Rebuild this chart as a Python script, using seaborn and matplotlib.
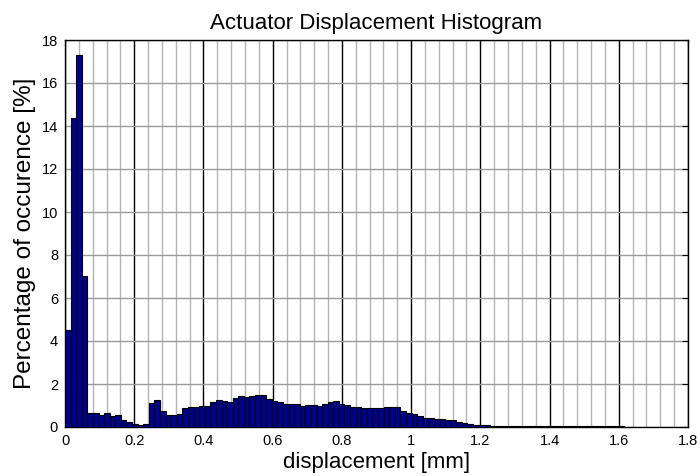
import numpy as np
import pandas as pd
import matplotlib
matplotlib.use("Agg")
import matplotlib.pyplot as plt
import seaborn as sns
from matplotlib.ticker import MultipleLocator

# Percentage of samples per displacement bin (100 equal bins from 0 to 1.615 mm)
bin_start = 0.0
bin_stop = 1.615
percent = [
    4.53, 14.39, 17.31, 7.03,
    0.66, 0.66, 0.55, 0.66, 0.49, 0.55, 0.33, 0.25, 0.13, 0.09, 0.14,
    1.10, 1.26, 0.76, 0.55, 0.55, 0.61, 0.90, 0.94, 0.94, 0.99,
    0.98, 1.15, 1.26, 1.21, 1.15, 1.37, 1.43, 1.39, 1.43, 1.50,
    1.50, 1.31, 1.23, 1.15, 1.09, 1.09, 1.09, 0.99, 1.04, 1.04,
    0.98, 1.09, 1.15, 1.21, 1.09,
    1.02, 0.94, 0.94, 0.90, 0.90, 0.90, 0.90, 0.94, 0.94, 0.94,
    0.76, 0.66, 0.60, 0.49, 0.43, 0.43, 0.36, 0.36, 0.33, 0.31,
    0.25, 0.19, 0.13, 0.08, 0.08,
    0.07, 0.06, 0.06, 0.05, 0.05, 0.05, 0.05, 0.05, 0.04, 0.04,
    0.04, 0.04, 0.04, 0.04, 0.04, 0.04, 0.04, 0.04, 0.04, 0.03,
    0.03, 0.03, 0.03, 0.03, 0.03,
]

x_ticks = [0, 0.2, 0.4, 0.6, 0.8, 1.0, 1.2, 1.4, 1.6, 1.8]
x_tick_labels = ["0", "0.2", "0.4", "0.6", "0.8", "1", "1.2", "1.4", "1.6", "1.8"]
y_ticks = [0, 2, 4, 6, 8, 10, 12, 14, 16, 18]
y_tick_labels = ["0", "2", "4", "6", "8", "10", "12", "14", "16", "18"]

title = "Actuator Displacement Histogram"
x_label = "displacement [mm]"
y_label = "Percentage of occurence [%]"

n_bins = len(percent)
edges = np.linspace(bin_start, bin_stop, n_bins + 1)
centers = (edges[:-1] + edges[1:]) / 2
df = pd.DataFrame({"displacement": centers, "percent": percent})

sns.set_style("white")
plt.rcParams["font.family"] = ["Liberation Sans", "DejaVu Sans"]
plt.rcParams["text.color"] = "black"
plt.rcParams["axes.labelcolor"] = "black"

fig = plt.figure(figsize=(7.0, 4.76), dpi=100)
ax = fig.add_axes([65 / 700, 49 / 476, 623 / 700, 387 / 476])

sns.histplot(
    data=df, x="displacement", weights="percent",
    bins=n_bins, binrange=(bin_start, bin_stop),
    stat="count", color="#00008F", edgecolor="black", linewidth=0.8,
    alpha=1.0, ax=ax, zorder=3,
)

ax.set_xlim(0, 1.8)
ax.set_ylim(0, 18)
ax.set_xticks(x_ticks)
ax.set_xticklabels(x_tick_labels)
ax.set_yticks(y_ticks)
ax.set_yticklabels(y_tick_labels)
ax.xaxis.set_minor_locator(MultipleLocator(0.04))

ax.set_axisbelow(True)
ax.grid(True, which="major", axis="x", color="black", linewidth=1.0)
ax.grid(True, which="minor", axis="x", color="#b4b4b4", linewidth=1.0)
ax.grid(True, which="major", axis="y", color="#9a9a9a", linewidth=1.0)

ax.tick_params(which="major", direction="in", length=4, width=0.8,
               top=True, right=True, labelsize=10.5, pad=5,
               colors="black", labelcolor="black")
ax.tick_params(which="minor", length=0)
for s in ax.spines.values():
    s.set_color("black")
    s.set_linewidth(1.0)

ax.set_title(title, fontsize=16, pad=8, color="black")
ax.set_xlabel(x_label, fontsize=16, labelpad=3, color="black")
ax.set_ylabel(y_label, fontsize=17.5, labelpad=4, color="black")

fig.savefig("out.png", dpi=100, facecolor="white")
